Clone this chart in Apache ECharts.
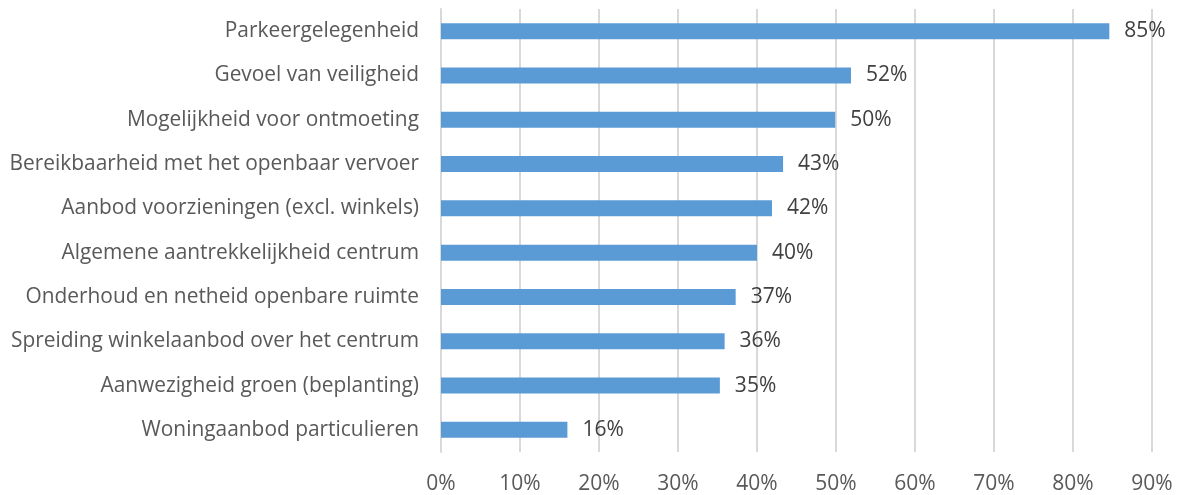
<!DOCTYPE html>
<html><head><meta charset="utf-8">
<script src="https://cdn.jsdelivr.net/npm/echarts@6/dist/echarts.min.js"></script>
<style>html,body{margin:0;padding:0;background:#fff}#c{width:1178px;height:495px}</style>
</head><body><div id="c"></div>
<script>
const categories = [
  "Parkeergelegenheid",
  "Gevoel van veiligheid",
  "Mogelijkheid voor ontmoeting",
  "Bereikbaarheid met het openbaar vervoer",
  "Aanbod voorzieningen (excl. winkels)",
  "Algemene aantrekkelijkheid centrum",
  "Onderhoud en netheid openbare ruimte",
  "Spreiding winkelaanbod over het centrum",
  "Aanwezigheid groen (beplanting)",
  "Woningaanbod particulieren"
];
const values = [84.6, 51.9, 49.9, 43.3, 41.9, 40.0, 37.3, 35.9, 35.3, 16.0];
const labels = ["85%", "52%", "50%", "43%", "42%", "40%", "37%", "36%", "35%", "16%"];

const chart = echarts.init(document.getElementById('c'));
const font = "'Open Sans', sans-serif";
chart.setOption({
  animation: false,
  grid: {left: 441, right: 26, top: 9, bottom: 42, containLabel: false},
  xAxis: {
    type: 'value', min: 0, max: 90, interval: 10,
    axisLine: {show: false}, axisTick: {show: false},
    splitLine: {show: true, lineStyle: {color: '#d9d9d9', width: 2}},
    axisLabel: {formatter: '{value}%', color: '#595959', fontSize: 21, fontFamily: font, margin: 22}
  },
  yAxis: {
    type: 'category', inverse: true, data: categories,
    axisLine: {show: true, lineStyle: {color: '#d9d9d9', width: 2}},
    axisTick: {show: false},
    axisLabel: {color: '#595959', fontSize: 20.9, fontFamily: font, margin: 22}
  },
  series: [{
    type: 'bar', data: values, barWidth: 16,
    itemStyle: {color: '#5b9bd5'},
    label: {show: true, position: 'right', distance: 15, color: '#404040', fontSize: 21, fontFamily: font,
      formatter: p => labels[p.dataIndex]}
  }]
});
</script></body></html>
